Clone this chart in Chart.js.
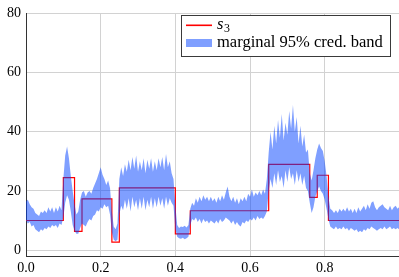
<!DOCTYPE html>
<html>
<head>
<meta charset="utf-8">
<script src="https://cdn.jsdelivr.net/npm/chart.js@4/dist/chart.umd.min.js"></script>
<style>
html,body{margin:0;padding:0;background:#fff;}
canvas{display:block;}
</style>
</head>
<body>
<canvas id="c" width="399" height="277"></canvas>
<script>
// ---- data ----
const X_MIN = 0, X_MAX = 0.999, Y_MIN = -2, Y_MAX = 80;
const X_TICKS = [0, 0.2, 0.4, 0.6, 0.8];
const Y_TICKS = [0, 20, 40, 60, 80];

// step function s3: breakpoints and level starting at each breakpoint
const stepX = [0, 0.10, 0.13, 0.15, 0.23, 0.25, 0.40, 0.44, 0.65, 0.76, 0.78, 0.81, 0.999];
const stepY = [10, 24.5, 6.3, 17.3, 2.7, 21, 5.5, 13.3, 29, 17.8, 25.3, 10, 10];

// marginal 95% credible band, sampled every 0.005 (last sample at 0.999)
const BAND_STEP = 0.005;
const bandUpper = [
 16.5,17,15.5,14.5,14,12.5,12,11.5,13,12.5,13.5,12.5,14.5,13,14.5,12.5,14.5,13,15,13.5,
 24,32,35,31,25,20,15.5,12,13,17,19.5,20,18,19.5,20,19,21,22.5,24,26,
 28,25.5,24,22,23.5,21,13,8,7,9,24,28,25,29,26.5,30.5,27,31.5,27.5,32,
 26.5,30,27,31,26,30.5,27.5,31,26.5,30,27,31,28,31.5,27,32.5,28,30,26,24,
 15,8.5,7.5,8,7.8,8.2,7.6,8.5,14,16,15,17.5,16,18,16.5,18.5,17,18,16.5,18,
 16.5,17.5,16,18,16.5,18.5,17,19.5,21.5,18,16.5,18,16,17.5,15.5,17.5,16.5,18,16.5,19,
 18,20.5,18,19.5,18.5,20,18.5,20.5,19,24,33,40,34,42,36,44,38,46,37,43,
 39,47,41,49,40,45,36,42,35,39,33,34,26,23.5,27,31,34,36,34.5,33.5,
 30,25,18,14,13.5,12.5,13.5,12.5,14,13,14,13,14.5,13,14,12.5,14,12.5,14.5,13,
 14,15,13.5,15.5,14,16,16.5,14.5,13.5,14.5,15,15.5,14.5,14,13.5,15,13.5,14.5,15,14,
 14.5
];
const bandLower = [
 10,9,9.5,8,8.5,7,6.5,6,7,6.5,7.5,7,8,7.5,8.5,8,8.5,7.5,9,8.5,
 11,16,18.5,17,13,8.5,6.5,5.5,5.5,7.5,9,8.5,8,9.5,10.5,10,11.5,12,13.5,13,
 14.5,14,15.5,14.5,15,12,6,3.5,3,3.5,12,15,13.5,17,14,17.5,13,18,14.5,17,
 13.5,17.5,14,18,13.5,17,14.5,18,14,17.5,14.5,18,15,17.5,14,18,15,17.5,16,15,
 7,4.5,4,3.8,4.2,3.7,4,4.5,8.5,10.5,10,11,9.5,10.5,9,10.5,9.5,10,9,10,
 9.5,9,10,9,10.5,9.5,10,11,10.5,10,9,10,8.5,9.5,8.5,8,9.5,9,10,9.5,
 10.5,10,11,10,11.5,10.5,11,10.5,11.5,13,20,24,21,26,22,27,23,25,21,27,
 23,28,24,26,22,27,23,26,22,25,21,20,16,12.5,14.5,18,20,21.5,20,19,
 17,14,10.5,8,7.5,7,8,7,7.5,7,8,7,7.5,6.5,7.5,7,6.5,7,6,6.5,
 6,7,6.5,7.5,7,8,7.5,7,6.5,7,7.5,7,8,7,7.5,8,7,7.5,7,7.5,
 7
];

// ---- build point lists ----
const bandX = bandUpper.map((_, i) => Math.min(i * BAND_STEP, X_MAX));
const upperPts = bandUpper.map((v, i) => ({x: bandX[i], y: v}));
const lowerPts = bandLower.map((v, i) => ({x: bandX[i], y: v}));
const stepPts = stepX.map((x, i) => ({x: x, y: stepY[i]}));

const SERIF = '"Liberation Serif", serif';
const BAND_COLOR = 'rgba(0, 64, 255, 0.5)';
const AXIS_COLOR = '#333333';
const GRID_COLOR = '#d2d2d2';

const legendPlugin = {
  id: 'texLegend',
  afterDraw(chart) {
    const ctx = chart.ctx;
    ctx.save();
    const L = 181.5, T = 15.5, R = 390.5, B = 56.5;
    ctx.fillStyle = '#ffffff';
    ctx.fillRect(L, T, R - L, B - T);
    ctx.strokeStyle = '#3a3a3a';
    ctx.lineWidth = 1;
    ctx.strokeRect(L, T, R - L, B - T);
    // red line sample
    ctx.fillStyle = '#ff0000';
    ctx.fillRect(186, 24.5, 26, 1.6);
    // band sample
    ctx.fillStyle = BAND_COLOR;
    ctx.fillRect(186, 39, 26, 8);
    // texts
    ctx.fillStyle = '#000';
    ctx.textBaseline = 'alphabetic';
    ctx.textAlign = 'left';
    const label = 'marginal 95% cred. band';
    ctx.font = '14px ' + SERIF;
    const w = ctx.measureText(label).width;
    const size = 14 * 166 / w;
    ctx.font = size.toFixed(2) + 'px ' + SERIF;
    ctx.fillText(label, 217, 47);
    ctx.font = 'italic ' + size.toFixed(2) + 'px ' + SERIF;
    ctx.fillText('s', 217, 29);
    const sw = ctx.measureText('s').width;
    ctx.font = (size * 0.72).toFixed(2) + 'px ' + SERIF;
    ctx.fillText('3', 217 + sw + 0.5, 31.5);
    ctx.restore();
  }
};

new Chart(document.getElementById('c'), {
  type: 'line',
  data: {
    datasets: [
      {
        label: 'lower',
        data: lowerPts,
        borderColor: 'transparent',
        borderWidth: 0,
        pointRadius: 0,
        fill: false,
        order: 0
      },
      {
        label: 'marginal 95% cred. band',
        data: upperPts,
        borderColor: 'transparent',
        borderWidth: 0,
        pointRadius: 0,
        backgroundColor: BAND_COLOR,
        fill: '-1',
        order: 0
      },
      {
        label: 's3',
        data: stepPts,
        borderColor: '#ff0000',
        borderWidth: 1.2,
        pointRadius: 0,
        stepped: 'before',
        fill: false,
        order: 1
      }
    ]
  },
  options: {
    responsive: false,
    animation: false,
    devicePixelRatio: 1,
    layout: {padding: {top: 10, left: 0, right: 0, bottom: 0}},
    plugins: {
      legend: {display: false},
      tooltip: {enabled: false},
      filler: {propagate: false}
    },
    scales: {
      x: {
        type: 'linear',
        min: X_MIN,
        max: X_MAX,
        afterFit(s) { s.height = 21; },
        afterBuildTicks(s) { s.ticks = X_TICKS.map(v => ({value: v})); },
        ticks: {
          includeBounds: false,
          padding: 4,
          color: '#000',
          maxRotation: 0,
          font: {family: SERIF, size: 14},
          callback: v => Number(v).toFixed(1)
        },
        grid: {color: GRID_COLOR, drawTicks: false, lineWidth: 1},
        border: {color: AXIS_COLOR, width: 1}
      },
      y: {
        type: 'linear',
        min: Y_MIN,
        max: Y_MAX,
        afterFit(s) { s.width = 26; },
        afterBuildTicks(s) { s.ticks = Y_TICKS.map(v => ({value: v})); },
        ticks: {
          includeBounds: false,
          padding: 5,
          color: '#000',
          font: {family: SERIF, size: 14},
          callback: v => String(v)
        },
        grid: {color: GRID_COLOR, drawTicks: false, lineWidth: 1},
        border: {color: AXIS_COLOR, width: 1}
      }
    }
  },
  plugins: [legendPlugin]
});
</script>
</body>
</html>
